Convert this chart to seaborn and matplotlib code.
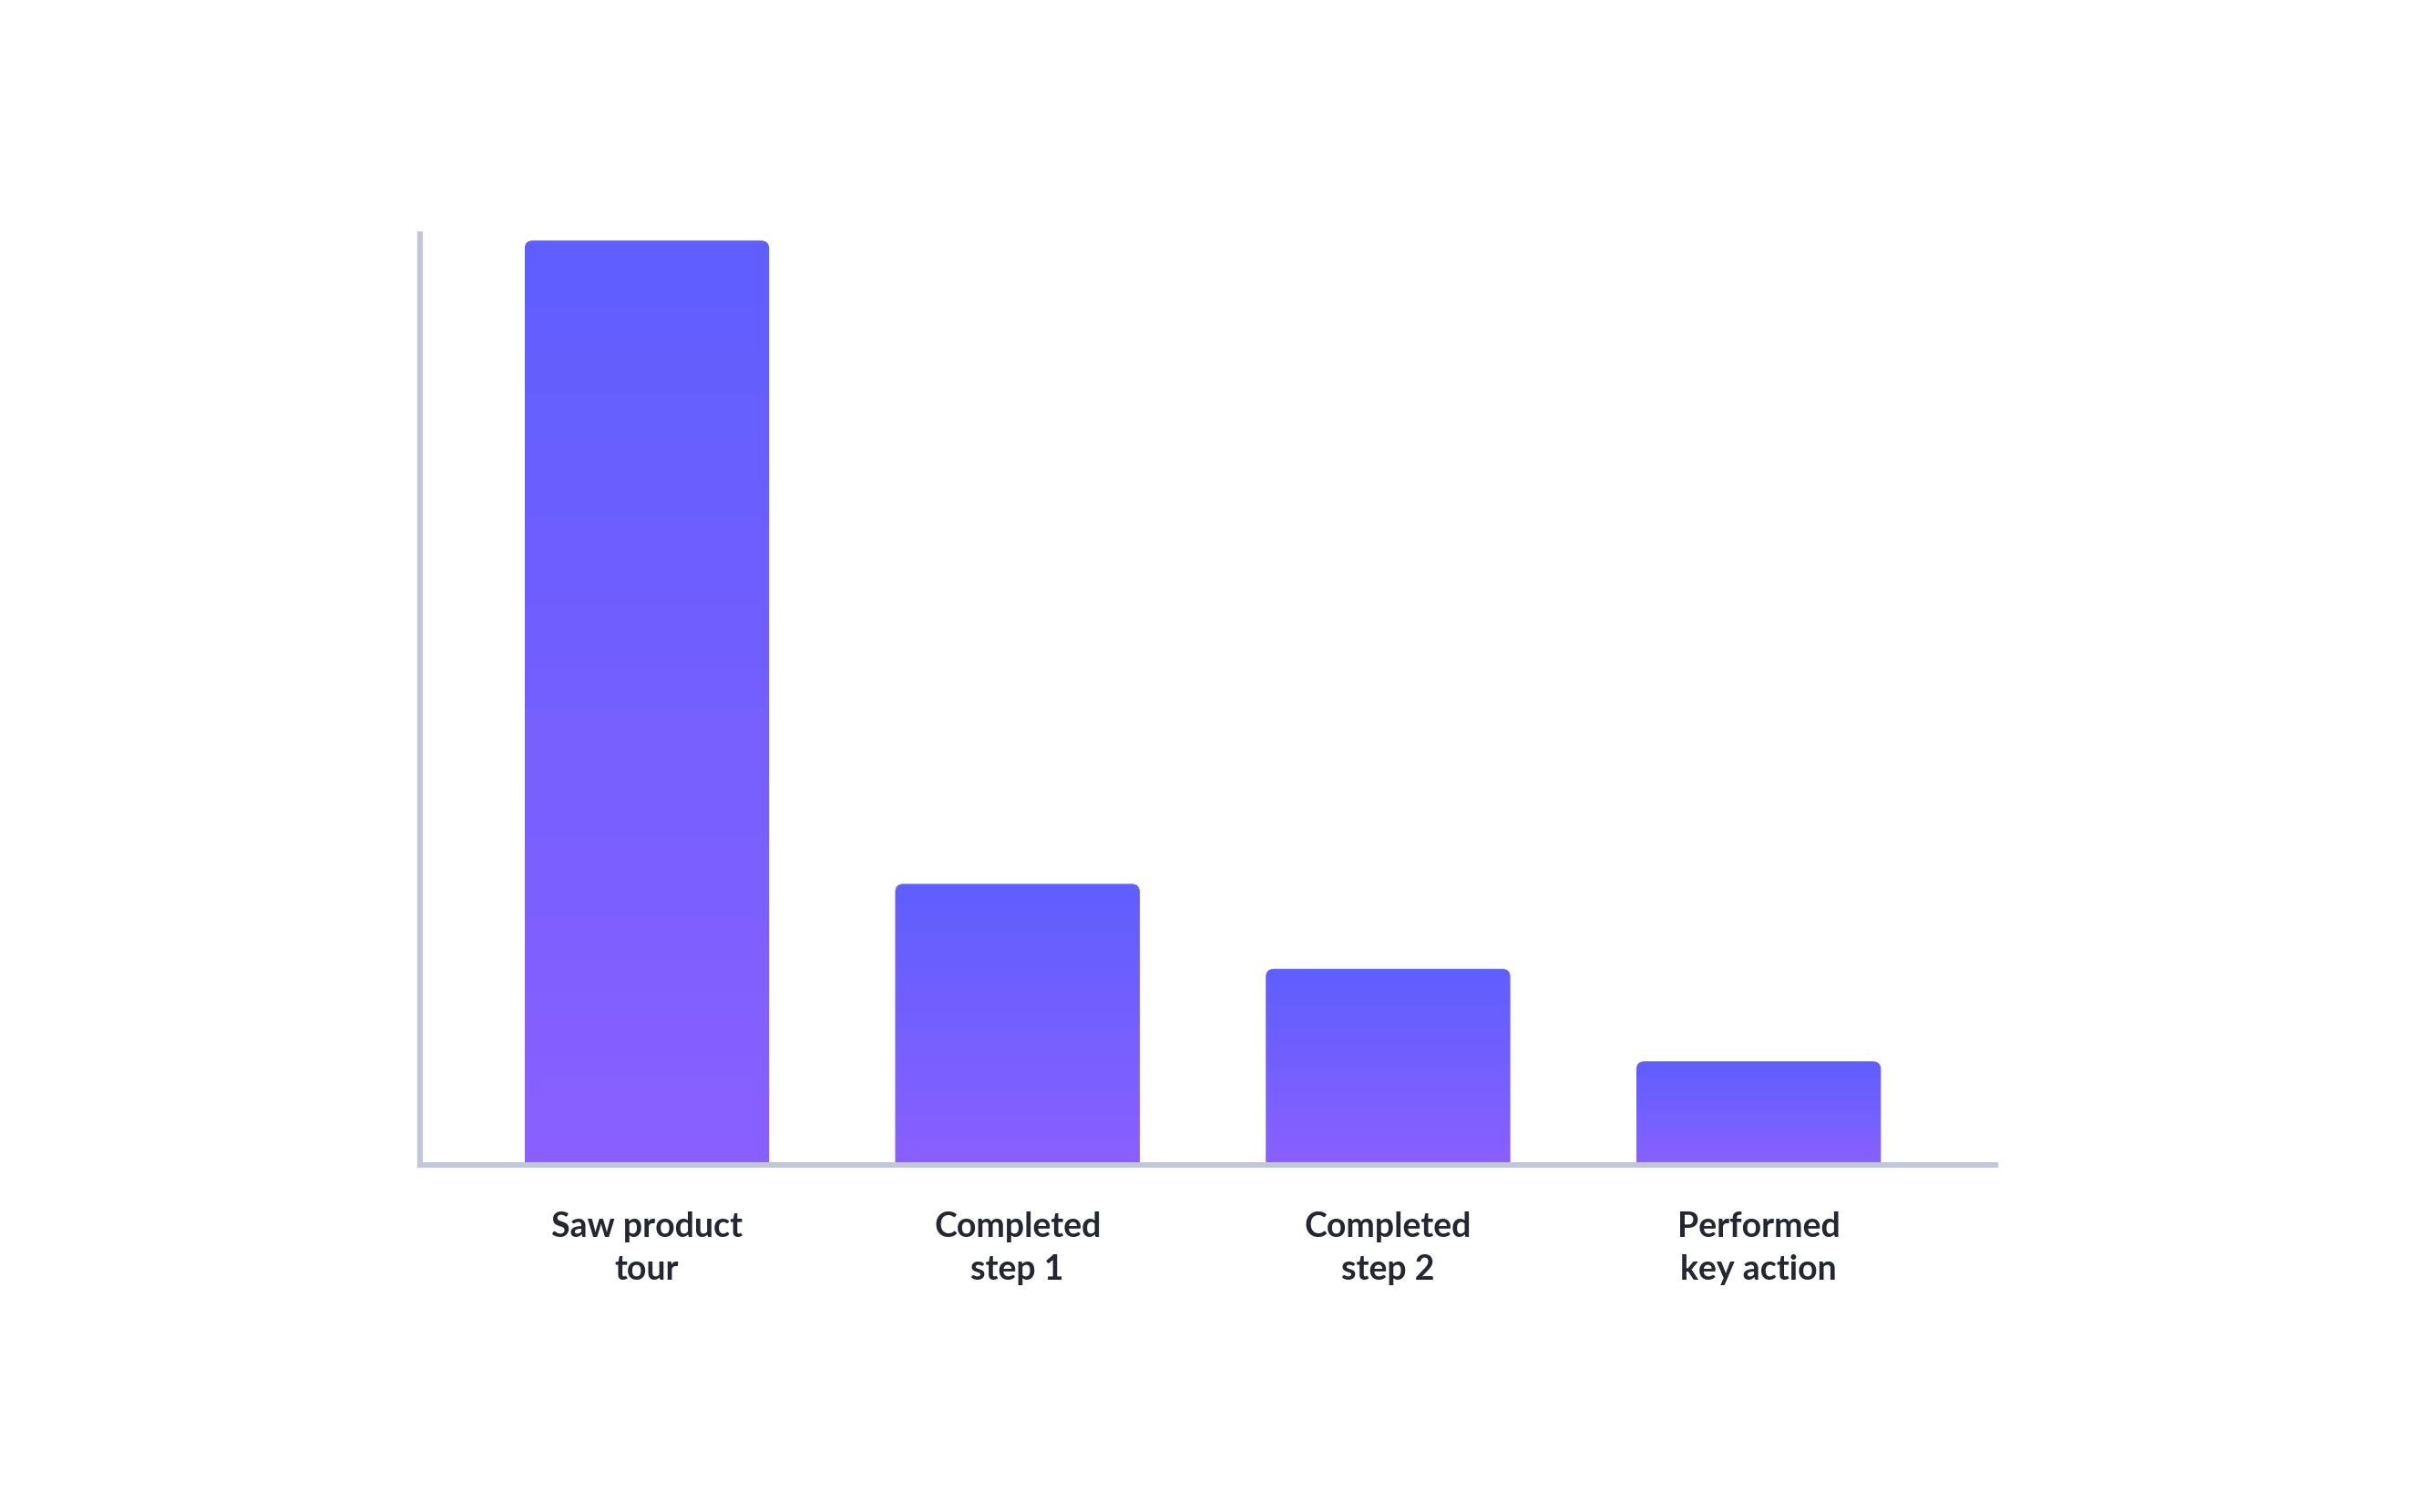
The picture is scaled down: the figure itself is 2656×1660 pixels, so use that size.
import numpy as np
import pandas as pd
import matplotlib
matplotlib.use("Agg")
import matplotlib.pyplot as plt
import seaborn as sns
from matplotlib.colors import LinearSegmentedColormap
from matplotlib.patches import FancyBboxPatch

# data (first step = 100)
steps = ["Saw product\ntour", "Completed\nstep 1", "Completed\nstep 2", "Performed\nkey action"]
users = [100, 30.4, 21.2, 11.2]

top_color = "#5F5EFF"
bottom_color = "#8A60FF"
axis_color = "#C0C7DC"
text_color = "#222733"

df = pd.DataFrame({"step": steps, "users": users})

sns.set_theme(style="white")
plt.rcParams["font.family"] = ["Lato", "DejaVu Sans"]

fig = plt.figure(figsize=(13.28, 8.3), dpi=200)
ax = fig.add_axes([0.1736, 0.2296, 0.6508, 0.6156])

sns.barplot(data=df, x="step", y="users", ax=ax, width=0.66, color=top_color)

xlim = (-0.612, 3.638)
ylim = (0, 100.7)
ax.set_xlim(*xlim)
ax.set_ylim(*ylim)

cmap = LinearSegmentedColormap.from_list("grad", [bottom_color, top_color])
grad = np.linspace(0, 1, 256).reshape(-1, 1)

# swap flat bars for gradient bars with rounded top corners
r = 0.022
aspect = 40
for bar in list(ax.patches):
    x0, w, h = bar.get_x(), bar.get_width(), bar.get_height()
    bar.set_visible(False)
    shape = FancyBboxPatch((x0, -5), w, h + 5,
                           boxstyle=f"round,pad=0,rounding_size={r}",
                           mutation_aspect=aspect,
                           facecolor="none", edgecolor="none",
                           transform=ax.transData)
    ax.add_patch(shape)
    img = ax.imshow(grad, cmap=cmap, origin="lower", aspect="auto",
                    extent=(x0, x0 + w, 0, h), zorder=2, interpolation="bicubic")
    img.set_clip_path(shape)

ax.set_xlim(*xlim)
ax.set_ylim(*ylim)

for side in ["top", "right"]:
    ax.spines[side].set_visible(False)
for side in ["left", "bottom"]:
    ax.spines[side].set_color(axis_color)
    ax.spines[side].set_linewidth(2.2)
    ax.spines[side].set_zorder(3)

ax.set_yticks([])
ax.set_xlabel("")
ax.set_ylabel("")
ax.tick_params(axis="x", length=0, pad=18.5)
for lbl in ax.get_xticklabels():
    lbl.set_fontsize(13.5)
    lbl.set_fontweight("bold")
    lbl.set_color(text_color)
    lbl.set_linespacing(1.45)

fig.savefig("out.png", dpi=200, facecolor="white")
